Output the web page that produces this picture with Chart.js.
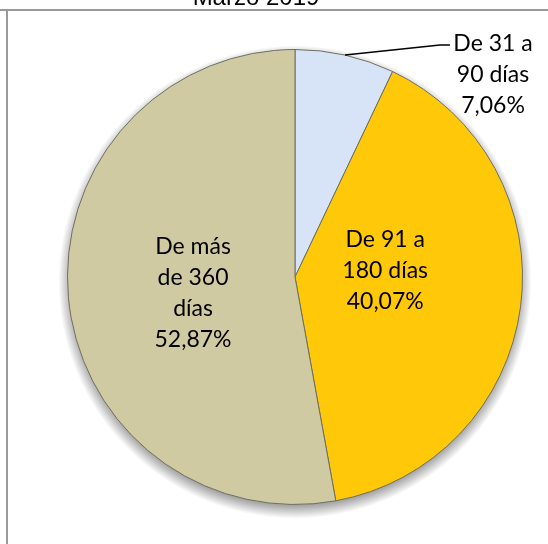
<!DOCTYPE html>
<html><head><meta charset="utf-8">
<script src="https://cdn.jsdelivr.net/npm/chart.js@4/dist/chart.umd.min.js"></script>
<style>html,body{margin:0;padding:0;background:#fff;}#wrap{width:548px;height:544px;position:relative}</style>
</head><body><div id="wrap"><canvas id="c" width="548" height="544"></canvas></div>
<script>
const chartTitle = 'Marzo 2019';
const categories = [['De 31 a', '90 días'], ['De 91 a', '180 días'], ['De más', 'de 360', 'días']];
const values = [7.06, 40.07, 52.87];
const valueLabels = ['7,06%', '40,07%', '52,87%'];
const colors = ['#D7E4F7', '#FFC90A', '#D0CAA3'];

const LABEL_FONT = '23px Lato, "Open Sans", sans-serif';
const LINE_H = 31;

const framePlugin = {
  id: 'frame',
  beforeDatasetsDraw(chart) {
    const ctx = chart.ctx;
    const arc = chart.getDatasetMeta(0).data[0];
    if (!arc) return;
    const R = arc.outerRadius;
    const sx = arc.x, sy = arc.y + 5;
    ctx.save();
    const g = ctx.createRadialGradient(sx, sy, R - 8, sx, sy, R + 9);
    g.addColorStop(0, 'rgba(0,0,0,0.45)');
    g.addColorStop(0.4, 'rgba(0,0,0,0.28)');
    g.addColorStop(1, 'rgba(0,0,0,0)');
    ctx.fillStyle = g;
    ctx.beginPath();
    ctx.arc(sx, sy, R + 9, 0, Math.PI * 2);
    ctx.fill();
    ctx.restore();
  },
  afterDraw(chart) {
    const ctx = chart.ctx;
    ctx.save();
    ctx.strokeStyle = '#999999';
    ctx.lineWidth = 2;
    ctx.beginPath();
    ctx.moveTo(0, 10); ctx.lineTo(chart.width, 10);
    ctx.moveTo(7, 10); ctx.lineTo(7, chart.height);
    ctx.stroke();
    ctx.fillStyle = '#000';
    ctx.font = '24px "Liberation Sans", Arial, sans-serif';
    ctx.textAlign = 'center';
    ctx.textBaseline = 'alphabetic';
    ctx.fillText(chartTitle, 256, 5);
    ctx.restore();
  },
  afterDatasetsDraw(chart) {
    const ctx = chart.ctx;
    const meta = chart.getDatasetMeta(0);
    ctx.save();
    ctx.font = LABEL_FONT;
    ctx.fillStyle = '#000';
    ctx.textAlign = 'center';
    ctx.textBaseline = 'middle';
    meta.data.forEach((arc, i) => {
      const lines = categories[i].concat([valueLabels[i]]);
      const mid = (arc.startAngle + arc.endAngle) / 2;
      const R = arc.outerRadius;
      if (i === 0) {
        const px = arc.x + Math.cos(mid) * R, py = arc.y + Math.sin(mid) * R;
        const ex = px + 95, ey = py - 10;
        ctx.strokeStyle = '#000';
        ctx.lineWidth = 1.5;
        ctx.beginPath();
        ctx.moveTo(px, py); ctx.lineTo(ex, ey); ctx.lineTo(ex + 10, ey);
        ctx.stroke();
        const tx = ex + 53, ty = ey - 1;
        lines.forEach((l, k) => ctx.fillText(l, tx, ty + k * LINE_H));
      } else {
        const frac = i === 1 ? 0.40 : 0.45;
        const dy = i === 1 ? -18 : 7;
        const cx = arc.x + Math.cos(mid) * R * frac;
        const cy = arc.y + Math.sin(mid) * R * frac + dy;
        const top = cy - (lines.length - 1) * LINE_H / 2;
        lines.forEach((l, k) => ctx.fillText(l, cx, top + k * LINE_H));
      }
    });
    ctx.restore();
  }
};

new Chart(document.getElementById('c'), {
  type: 'pie',
  data: {
    labels: categories,
    datasets: [{
      data: values,
      backgroundColor: colors,
      borderColor: '#6e6e60',
      borderWidth: 1
    }]
  },
  options: {
    responsive: false,
    animation: false,
    devicePixelRatio: 1,
    layout: { padding: { left: 67, right: 25, top: 49, bottom: 39 } },
    plugins: { legend: { display: false }, tooltip: { enabled: false }, title: { display: false } }
  },
  plugins: [framePlugin]
});
</script></body></html>
